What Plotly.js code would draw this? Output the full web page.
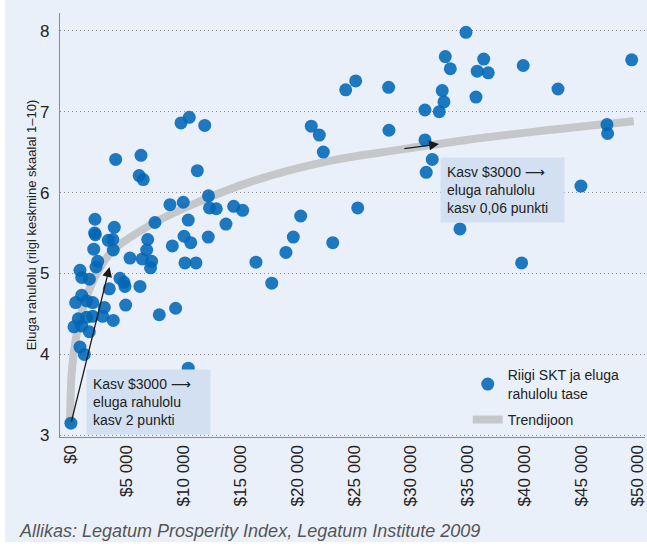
<!DOCTYPE html>
<html>
<head>
<meta charset="utf-8">
<script src="https://cdn.plot.ly/plotly-3.0.1.min.js"></script>
<style>
html,body{margin:0;padding:0;background:#ffffff;}
#wrap{position:relative;width:647px;height:548px;overflow:hidden;}
#chart{position:absolute;left:0;top:0;width:647px;height:548px;}
#edgeL{position:absolute;left:0;top:0;width:5px;height:548px;background:#ffffff;}
#edgeB{position:absolute;left:0;top:542px;width:647px;height:6px;background:#ffffff;}
</style>
</head>
<body>
<div id="wrap"><div id="chart"></div><div id="edgeL"></div><div id="edgeB"></div></div>
<script>
// GDP per capita (USD) and life satisfaction (1-10)
const gdp = [
 34860,33040,33480,36420,35850,36820,39900,49450,32770,32920,
 31250,32510,35740,42960,31250,31890,31360,47270,47330,44980,
 34330,39760,25150,24270,28050,28080,21240,21950,22300,25330,
 23130,20310,19660,19010,17760,16370,13730,12170,11090,10120,
 10630,10040,10410,9010,7480,8800,9970,12190,12280,12880,
 14410,15200,11210,9770,10500,11860,4020,6250,6090,6450,
 6840,6750,5280,6360,7190,7090,2200,2170,2230,3900,
 3370,3770,3810,2090,2440,2290,880,1030,1700,4400,
 4750,4840,6160,3460,1030,500,1470,2000,3020,4900,
 730,1470,2000,2880,3810,350,1030,1700,7860,9300,
 880,1260,10410,80
];
const satisfaction = [
 7.98,7.68,7.53,7.65,7.50,7.48,7.57,7.64,7.26,7.12,
 7.02,7.00,7.18,7.28,6.65,6.41,6.25,6.84,6.73,6.08,
 5.55,5.13,7.38,7.27,7.30,6.77,6.82,6.71,6.50,5.81,
 5.38,5.71,5.45,5.26,4.88,5.14,5.61,5.45,5.13,5.13,
 5.38,5.46,5.66,5.34,5.63,5.85,5.88,5.96,5.81,5.80,
 5.83,5.78,6.27,6.86,6.93,6.83,6.41,6.46,6.21,6.16,
 5.42,5.29,5.19,5.18,5.15,5.07,5.67,5.50,5.48,5.57,
 5.41,5.42,5.29,5.30,5.15,5.08,5.04,4.95,4.93,4.94,
 4.89,4.84,4.84,4.81,4.73,4.64,4.66,4.64,4.58,4.61,
 4.44,4.46,4.47,4.47,4.42,4.34,4.35,4.28,4.49,4.57,
 4.09,4.00,3.83,3.15
];
// Trend line
const trendX = [0,150,500,1170,2350,3810,7480,10410,16290,23180,29050,34920,40790,49630];
const trendY = [3.10,3.77,4.18,4.59,5.00,5.29,5.63,5.83,6.15,6.40,6.53,6.65,6.75,6.88];

const xTickVals = [0,5000,10000,15000,20000,25000,30000,35000,40000,45000,50000];
const xTickText = ['$0','$5 000','$10 000','$15 000','$20 000','$25 000','$30 000','$35 000','$40 000','$45 000','$50 000'];
const yTickVals = [3,4,5,6,7,8];

const seriesName = 'Riigi SKT ja eluga<br>rahulolu tase';
const trendName = 'Trendijoon';
const yTitle = 'Eluga rahulolu (riigi keskmine skaalal 1–10)';
const source = 'Allikas: Legatum Prosperity Index, Legatum Institute 2009';
const note1 = 'Kasv $3000 ⟶<br>eluga rahulolu<br>kasv 2 punkti';
const note2 = 'Kasv $3000 ⟶<br>eluga rahulolu<br>kasv 0,06 punkti';

const FONT = '"Liberation Sans", Arial, "DejaVu Sans", sans-serif';
const BG = 'rgb(234,240,249)';
const BOX = 'rgb(211,224,241)';

const traces = [
  {x: trendX, y: trendY, type: 'scatter', mode: 'lines', name: trendName, legendgroup: 'trend',
   line: {color: '#c5c8ca', width: 8, shape: 'spline', smoothing: 1}, legendrank: 2, hoverinfo: 'skip'},
  {x: gdp, y: satisfaction, type: 'scatter', mode: 'markers', name: seriesName, legendgroup: 'pts',
   marker: {color: 'rgb(0,102,182)', size: 13, opacity: 0.88, line: {width: 0}}, legendrank: 1}
];

const layout = {
  width: 647, height: 548,
  margin: {l: 60, r: 2, t: 13, b: 111, pad: 0},
  paper_bgcolor: BG, plot_bgcolor: BG,
  font: {family: FONT, color: '#222', size: 14},
  showlegend: true,
  legend: {x: 0.697, xanchor: 'left', y: 0.183, yanchor: 'top', bgcolor: 'rgba(0,0,0,0)',
           font: {size: 14, color: '#222'}, valign: 'middle', tracegroupgap: 5},
  xaxis: {range: [-880, 50620], tickvals: xTickVals, ticktext: xTickText, tickangle: -90,
          tickfont: {size: 17, color: '#222'}, showgrid: false, zeroline: false, ticklabeloverflow: 'allow',
          showline: true, linecolor: '#8a8a8a', linewidth: 1.2, ticks: '', fixedrange: true, automargin: false},
  yaxis: {range: [2.979, 8.219], tickvals: yTickVals, tickfont: {size: 17, color: '#222'},
          showgrid: true, gridcolor: '#8f8f8f', griddash: '1px,3px', gridwidth: 1, zeroline: false,
          showline: true, linecolor: '#8a8a8a', linewidth: 1.2, ticks: '', ticklabelstandoff: 6,
          title: {text: yTitle, font: {size: 13, color: '#222'}, standoff: 0}, automargin: false, fixedrange: true},
  annotations: [
    {xref: 'x', yref: 'y', x: 1408, y: 3.818, xanchor: 'left', yanchor: 'top', text: note1,
     showarrow: false, align: 'left', bgcolor: BOX, borderpad: 6, width: 111, font: {size: 14, color: '#222'}},
    {xref: 'x', yref: 'y', x: 32570, y: 6.439, xanchor: 'left', yanchor: 'top', text: note2,
     showarrow: false, align: 'left', bgcolor: BOX, borderpad: 6, width: 111, font: {size: 14, color: '#222'}},
    {xref: 'x', yref: 'y', axref: 'x', ayref: 'y', x: 3480, y: 5.079, ax: 90, ay: 3.15, text: '',
     showarrow: true, arrowhead: 2, arrowsize: 1.5, arrowwidth: 1.3, arrowcolor: '#1a1a1a'},
    {xref: 'x', yref: 'y', axref: 'x', ayref: 'y', x: 32480, y: 6.60, ax: 29310, ay: 6.54, text: '',
     showarrow: true, arrowhead: 2, arrowsize: 1.5, arrowwidth: 1.3, arrowcolor: '#1a1a1a'},
    {xref: 'paper', yref: 'paper', x: -0.0735, y: -0.2217, xanchor: 'left', yanchor: 'middle',
     text: '<i>' + source + '</i>', showarrow: false, font: {size: 18, color: '#555'}}
  ]
};

Plotly.newPlot('chart', traces, layout, {staticPlot: true, displayModeBar: false});
</script>
</body>
</html>
